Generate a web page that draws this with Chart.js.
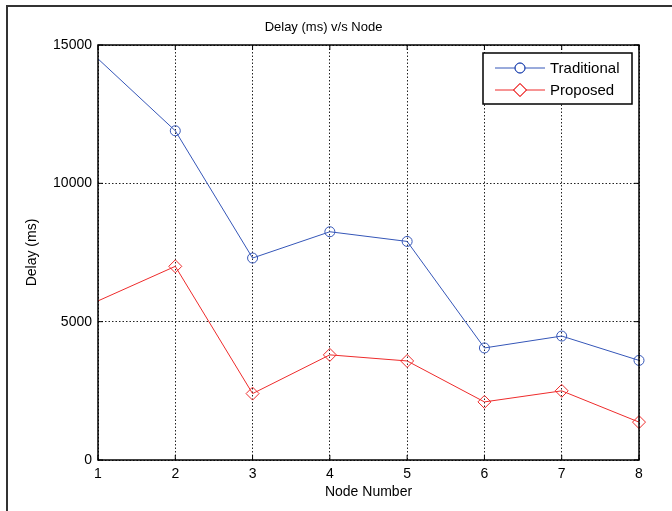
<!DOCTYPE html>
<html>
<head>
<meta charset="utf-8">
<script src="https://cdn.jsdelivr.net/npm/chart.js@4"></script>
<style>
  html, body { margin: 0; padding: 0; background: #fff; }
  #wrap { width: 672px; height: 511px; position: relative; }
</style>
</head>
<body>
<div id="wrap"><canvas id="delayChart" width="672" height="511"></canvas></div>
<script>
const nodes = ['1', '2', '3', '4', '5', '6', '7', '8'];
const traditional = [14500, 11900, 7300, 8250, 7900, 4050, 4480, 3600];
const proposed = [5750, 7000, 2400, 3800, 3580, 2100, 2500, 1370];
const yTicks = [0, 5000, 10000, 15000];

const FONT = 'Liberation Sans';
const blue = '#3556b8';
const red = '#ee2b2b';

// first node is drawn without a marker
const markerRadius = nodes.map((n, i) => i === 0 ? 0 : 5);

// MATLAB-style box: frame, inward ticks, legend inside the axes
const matlabBox = {
    id: 'matlabBox',
    afterDraw(chart) {
        const ctx = chart.ctx;
        const a = chart.chartArea;
        const xs = chart.scales.x, ys = chart.scales.y;
        ctx.save();
        // figure edge
        ctx.strokeStyle = '#333';
        ctx.lineWidth = 2;
        ctx.beginPath();
        ctx.moveTo(7, 511);
        ctx.lineTo(7, 6);
        ctx.lineTo(672, 6);
        ctx.stroke();
        // axes frame
        ctx.strokeStyle = '#000';
        ctx.lineWidth = 1.5;
        ctx.strokeRect(a.left, a.top, a.right - a.left, a.bottom - a.top);
        // inward ticks
        ctx.lineWidth = 1;
        nodes.forEach((n, i) => {
            const x = xs.getPixelForValue(i);
            ctx.beginPath();
            ctx.moveTo(x, a.bottom); ctx.lineTo(x, a.bottom - 5);
            ctx.moveTo(x, a.top); ctx.lineTo(x, a.top + 5);
            ctx.stroke();
        });
        yTicks.forEach(v => {
            const y = ys.getPixelForValue(v);
            ctx.beginPath();
            ctx.moveTo(a.left, y); ctx.lineTo(a.left + 5, y);
            ctx.moveTo(a.right, y); ctx.lineTo(a.right - 5, y);
            ctx.stroke();
        });
        // legend
        const lx = 483, ly = 53, lw = 149, lh = 51;
        ctx.fillStyle = '#fff';
        ctx.fillRect(lx, ly, lw, lh);
        ctx.strokeStyle = '#000';
        ctx.lineWidth = 1.5;
        ctx.strokeRect(lx, ly, lw, lh);
        const rows = [
            { label: 'Traditional', color: blue, style: 'circle', r: 5, y: ly + 15 },
            { label: 'Proposed', color: red, style: 'rectRot', r: 6.5, y: ly + 37 }
        ];
        rows.forEach(r => {
            ctx.strokeStyle = r.color;
            ctx.lineWidth = 1;
            ctx.beginPath();
            ctx.moveTo(lx + 12, r.y);
            ctx.lineTo(lx + 62, r.y);
            ctx.stroke();
            ctx.fillStyle = '#fff';
            Chart.helpers.drawPoint(ctx, { pointStyle: r.style, radius: r.r, rotation: 0, borderWidth: 1 }, lx + 37, r.y);
            ctx.stroke();
            ctx.fillStyle = '#000';
            ctx.font = '15px "' + FONT + '"';
            ctx.textAlign = 'left';
            ctx.textBaseline = 'middle';
            ctx.fillText(r.label, lx + 67, r.y + 1);
        });
        ctx.restore();
    }
};

new Chart(document.getElementById('delayChart').getContext('2d'), {
    type: 'line',
    data: {
        labels: nodes,
        datasets: [{
            label: 'Traditional',
            data: traditional,
            borderColor: blue,
            backgroundColor: 'rgba(0,0,0,0)',
            borderWidth: 1,
            pointStyle: 'circle',
            pointRadius: markerRadius,
            pointBorderWidth: 1,
            tension: 0
        }, {
            label: 'Proposed',
            data: proposed,
            borderColor: red,
            backgroundColor: 'rgba(0,0,0,0)',
            borderWidth: 1,
            pointStyle: 'rectRot',
            pointRadius: markerRadius.map(r => r ? 6.5 : 0),
            pointBorderWidth: 1,
            tension: 0
        }]
    },
    options: {
        responsive: false,
        animation: false,
        layout: { padding: { left: 8, right: 33, top: 0, bottom: 0 } },
        plugins: {
            legend: { display: false },
            tooltip: { enabled: false },
            title: {
                display: true,
                text: 'Delay (ms) v/s Node',
                color: '#000',
                font: { family: FONT, size: 13, weight: 'normal' },
                padding: { top: 20, bottom: 9.4 }
            }
        },
        scales: {
            x: {
                offset: false,
                grid: { color: '#222', drawTicks: false, lineWidth: 1 },
                border: { display: false, dash: [1.5, 2] },
                ticks: { color: '#000', padding: 6, maxRotation: 0, font: { family: FONT, size: 14 } },
                title: {
                    display: true, text: 'Node Number', color: '#000',
                    font: { family: FONT, size: 14 }, padding: { top: 0, bottom: 10 }
                },
                afterFit(scale) { scale.height = 51; }
            },
            y: {
                min: 0,
                max: 15000,
                afterBuildTicks(scale) { scale.ticks = yTicks.map(v => ({ value: v })); },
                grid: { color: '#222', drawTicks: false, lineWidth: 1 },
                border: { display: false, dash: [1.5, 2] },
                ticks: {
                    color: '#000', padding: 6, font: { family: FONT, size: 14 },
                    callback: v => String(v)
                },
                title: {
                    display: true, text: 'Delay (ms)', color: '#000',
                    font: { family: FONT, size: 14 }, padding: { top: 16, bottom: 0 }
                },
                afterFit(scale) { scale.width = 90; }
            }
        }
    },
    plugins: [matlabBox]
});
</script>
</body>
</html>
